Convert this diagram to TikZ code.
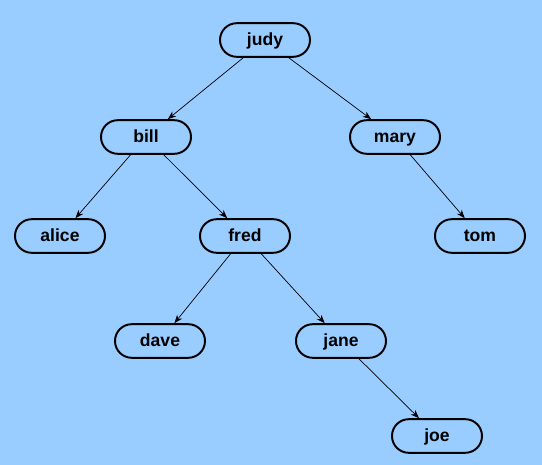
\documentclass[tikz,border=0pt]{standalone}
\usepackage{fontspec}
\setmainfont{Liberation Sans}
\usetikzlibrary{positioning, shapes, arrows.meta}
\definecolor{skyback}{HTML}{99CCFF}

\begin{document}
\begin{tikzpicture}[x=0.025cm, y=-0.025cm, font=\bfseries\fontsize{12.5}{14}\selectfont,
  person/.style={draw, line width=1.4pt, rounded corners=0.42cm, minimum width=2.25cm, minimum height=0.84cm, inner sep=0pt, text height=9.5pt, text depth=1.5pt},
  link/.style={-{Stealth[length=6pt, width=4.5pt]}, line width=0.5pt}]
\fill[skyback] (0,0) rectangle (542,465);
\useasboundingbox (0,0) rectangle (542,465);

\node[person] (judy) at (265, 40) {judy};
\node[person] (bill) at (146, 137) {bill};
\node[person] (mary) at (395, 137) {mary};
\node[person] (alice) at (60, 236) {alice};
\node[person] (fred) at (245, 236) {fred};
\node[person] (tom) at (480, 236) {tom};
\node[person] (dave) at (160, 341) {dave};
\node[person] (jane) at (341, 341) {jane};
\node[person] (joe) at (437, 436) {joe};

\draw[link] (judy) -- (bill);
\draw[link] (judy) -- (mary);
\draw[link] (bill) -- (alice);
\draw[link] (bill) -- (fred);
\draw[link] (mary) -- (tom);
\draw[link] (fred) -- (dave);
\draw[link] (fred) -- (jane);
\draw[link] (jane) -- (joe);

\end{tikzpicture}
\end{document}
